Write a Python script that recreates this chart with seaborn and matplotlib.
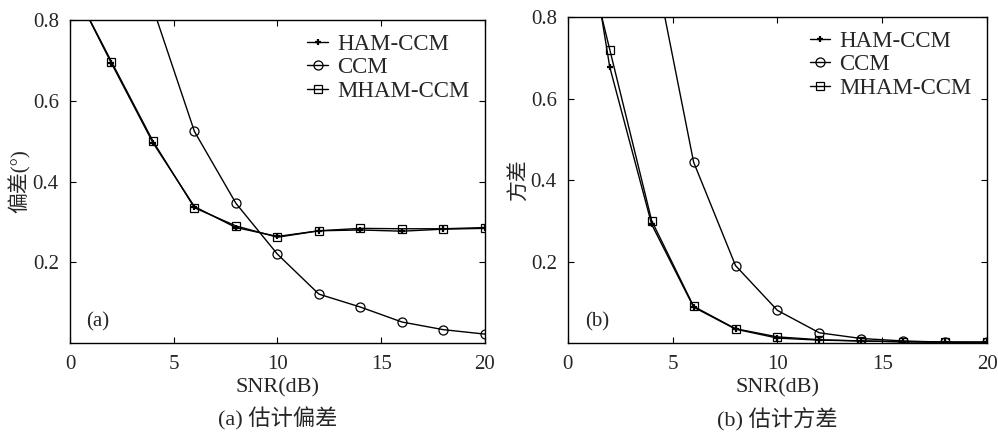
import numpy as np
import pandas as pd
import matplotlib
matplotlib.use('Agg')
import matplotlib.pyplot as plt
import seaborn as sns

# valeurs
snr = [0, 2, 4, 6, 8, 10, 12, 14, 16, 18, 20]

# (a) biais d'estimation
bias_ham = [0.896, 0.693, 0.496, 0.338, 0.286, 0.264, 0.278, 0.280, 0.277, 0.282, 0.284]
bias_ccm = [1.60, 1.10, 0.83, 0.524, 0.346, 0.220, 0.121, 0.089, 0.052, 0.033, 0.022]
bias_mham = [0.896, 0.697, 0.500, 0.335, 0.290, 0.262, 0.278, 0.284, 0.283, 0.283, 0.286]

# (b) variance d'estimation
var_ham = [1.31, 0.677, 0.291, 0.088, 0.034, 0.012, 0.007, 0.005, 0.003, 0.002, 0.002]
var_ccm = [2.50, 1.60, 0.963, 0.444, 0.190, 0.080, 0.025, 0.011, 0.005, 0.002, 0.0015]
var_mham = [1.14, 0.720, 0.300, 0.090, 0.035, 0.015, 0.008, 0.005, 0.003, 0.002, 0.002]

series_names = ['HAM-CCM', 'CCM', 'MHAM-CCM']
x_ticks = [0, 5, 10, 15, 20]
y_ticks = [0.2, 0.4, 0.6, 0.8]

sns.set_theme(style='ticks')
plt.rcParams['font.family'] = ['Liberation Serif', 'Noto Sans CJK SC']
plt.rcParams['xtick.direction'] = 'in'
plt.rcParams['ytick.direction'] = 'in'

marker_styles = {
    'HAM-CCM': dict(marker='+', markersize=5, markeredgewidth=1.6),
    'CCM': dict(marker='o', markersize=6.5, markerfacecolor='none', markeredgewidth=0.9),
    'MHAM-CCM': dict(marker='s', markersize=6, markerfacecolor='none', markeredgewidth=0.9),
}

def draw_panel(ax, values, ylabel, tag, caption):
    for name, vals in zip(series_names, values):
        df = pd.DataFrame({'snr': snr, 'val': vals})
        sns.lineplot(data=df, x='snr', y='val', ax=ax, color='black', linewidth=1,
                     markeredgecolor='black', label=name, **marker_styles[name])
    ax.set_xlim(0, 20)
    ax.set_ylim(0, 0.8)
    ax.set_xticks(x_ticks)
    ax.set_yticks(y_ticks)
    ax.tick_params(top=True, right=True, length=4, width=0.8, labelsize=15, color='black')
    ax.tick_params(axis='x', pad=9)
    ax.tick_params(axis='y', pad=8)
    for s in ax.spines.values():
        s.set_color('black')
        s.set_linewidth(1)
    ax.set_xlabel('SNR(dB)', fontsize=16, labelpad=3)
    ax.set_ylabel(ylabel, fontsize=15, labelpad=1)
    ax.text(0.04, 0.065, tag, transform=ax.transAxes, fontsize=15, ha='left', va='center')
    ax.text(0.5, -0.235, caption, transform=ax.transAxes, fontsize=16, ha='center', va='center')
    ax.legend(loc='upper right', bbox_to_anchor=(0.985, 0.985), frameon=False,
              fontsize=16.5, handlelength=0.9, handletextpad=0.4, labelspacing=0.1,
              borderaxespad=0)

fig = plt.figure(figsize=(9.98, 4.34), dpi=100)
ax1 = fig.add_axes([0.0701, 0.2097, 0.4158, 0.744])
ax2 = fig.add_axes([0.569, 0.2097, 0.420, 0.751])

draw_panel(ax1, [bias_ham, bias_ccm, bias_mham], '偏差(°)', '(a)', '(a) 估计偏差')
draw_panel(ax2, [var_ham, var_ccm, var_mham], '方差', '(b)', '(b) 估计方差')

fig.savefig('out.png', dpi=100)
plt.close(fig)
